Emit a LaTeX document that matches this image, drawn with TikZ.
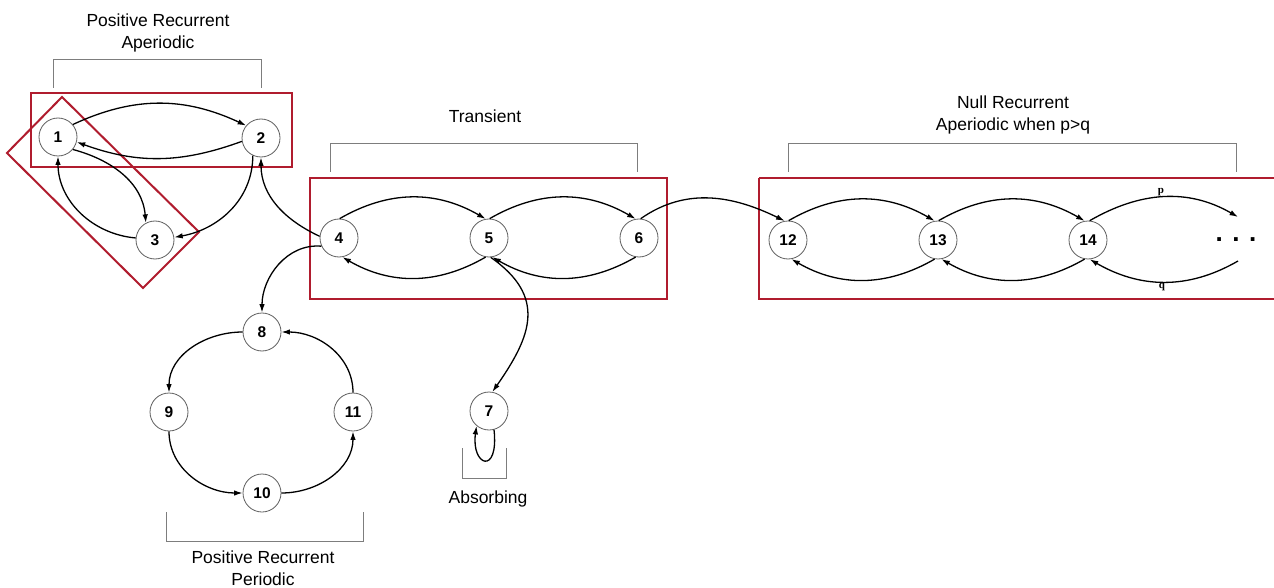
\documentclass[tikz,border=0pt]{standalone}
\usepackage{fontspec}
\setmainfont{Liberation Sans}
\newfontfamily\serifbf{Liberation Serif}
\usetikzlibrary{arrows.meta}
\definecolor{boxred}{RGB}{176,28,46}
\definecolor{brk}{RGB}{125,125,125}
\definecolor{nodegray}{RGB}{95,95,95}
\begin{document}
\begin{tikzpicture}[x=1pt,y=1pt,
  st/.style={circle,draw=nodegray,line width=0.8pt,minimum size=38pt,inner sep=0pt,font=\fontsize{15.5}{17}\selectfont\bfseries},
  edge/.style={line width=1.3pt,-{Latex[length=8.5pt,width=5.5pt]}},
  redbox/.style={draw=boxred,line width=2pt},
  brack/.style={draw=brk,line width=0.9pt},
  lbl/.style={font=\fontsize{17.5}{22}\selectfont,align=center,inner sep=0pt},
  pq/.style={font=\serifbf\bfseries\fontsize{11}{12}\selectfont,inner sep=0pt}]
\useasboundingbox[fill=white] (0,0) rectangle (1274,-588);

% red boxes
\draw[redbox] (31,-93) rectangle (292,-167);
\draw[redbox] (62,-97) -- (199,-232) -- (143,-288) -- (7,-153) -- cycle;
\draw[redbox] (310,-178) rectangle (667,-299);
\draw[redbox] (759,-178) -- (1280,-178) (759,-178) -- (759,-299) -- (1280,-299);

% brackets
\draw[brack] (53,-88) -- (53,-59) -- (261,-59) -- (261,-88);
\draw[brack] (330,-172) -- (330,-143) -- (637,-143) -- (637,-172);
\draw[brack] (788,-172) -- (788,-143) -- (1236,-143) -- (1236,-172);
\draw[brack] (462,-448) -- (462,-478) -- (506,-478) -- (506,-448);
\draw[brack] (166,-512) -- (166,-541) -- (363,-541) -- (363,-512);

% labels
\node[lbl] (lpra) at (158,-33) {Positive Recurrent\\Aperiodic};
\node[lbl] (ltr) at (485,-116) {Transient};
\node[lbl] (lnr) at (1013,-115) {Null Recurrent\\Aperiodic when p>q};
\node[lbl] (labs) at (488,-499) {Absorbing};
\node[lbl] (lprp) at (263,-568) {Positive Recurrent\\Periodic};

% states
\node[st] (n1) at (58,-137) {1};
\node[st] (n2) at (261,-138) {2};
\node[st] (n3) at (155,-240) {3};
\node[st] (n4) at (339,-238) {4};
\node[st] (n5) at (489,-238) {5};
\node[st] (n6) at (639,-238) {6};
\node[st] (n7) at (489,-411) {7};
\node[st] (n8) at (262,-332) {8};
\node[st] (n9) at (169,-412) {9};
\node[st] (n10) at (262,-493) {10};
\node[st] (n11) at (353,-412) {11};
\node[st] (n12) at (788,-240) {12};
\node[st] (n13) at (938,-240) {13};
\node[st] (n14) at (1088,-240) {14};
\node[font=\fontsize{26}{26}\selectfont\bfseries,inner sep=0pt] (dots) at (1236,-240) {. . .};
\coordinate (dtop) at (1238,-217);
\coordinate (dbot) at (1238,-261);

% edges top-left
\draw[edge] (n1.40) to[out=25,in=155] (n2.140);
\draw[edge] (n2.190) to[out=-160,in=-20] (n1.-15);
\draw[edge] (n1.-40) to[out=-15,in=95] (n3.118);
\draw[edge] (n3.174) to[out=175,in=-90] (n1.south);
\draw[edge] (n2.-115) to[out=-90,in=10] (n3.8);
\draw[edge] (n4.175) to[out=155,in=-90] (n2.south);

% transient
\draw[edge] (n4.88) to[out=30,in=150] (n5.100);
\draw[edge] (n5.88) to[out=30,in=150] (n6.100);
\draw[edge] (n5.-100) to[out=-150,in=-30] (n4.-80);
\draw[edge] (n6.-100) to[out=-150,in=-30] (n5.-80);
\draw[edge] (n6.85) to[out=35,in=154] (n12.100);
\draw[edge] (n4.205) to[out=175,in=90] (n8.north);
\draw[edge] (n5.-85) to[out=-35,in=55,looseness=1.3] (n7.80);
\draw[edge] (n7.-75) .. controls (499,-476) and (471,-466) .. (n7.-130);

% periodic cycle
\draw[edge] (n8.west) to[out=180,in=90] (n9.north);
\draw[edge] (n9.south) to[out=-90,in=180] (n10.west);
\draw[edge] (n10.east) to[out=0,in=-90] (n11.south);
\draw[edge] (n11.north) to[out=90,in=0] (n8.east);

% null recurrent
\draw[edge] (n12.88) to[out=30,in=150] (n13.100);
\draw[edge] (n13.88) to[out=30,in=150] (n14.100);
\draw[edge] (n13.-100) to[out=-150,in=-30] (n12.-80);
\draw[edge] (n14.-100) to[out=-150,in=-30] (n13.-80);
\draw[edge] (n14.85) to[out=30,in=150] (dtop);
\draw[edge] (dbot) to[out=-150,in=-30] (n14.-85);
\node[pq] (p) at (1161,-192) {p};
\node[pq] (q) at (1162,-287) {q};
\end{tikzpicture}
\end{document}
